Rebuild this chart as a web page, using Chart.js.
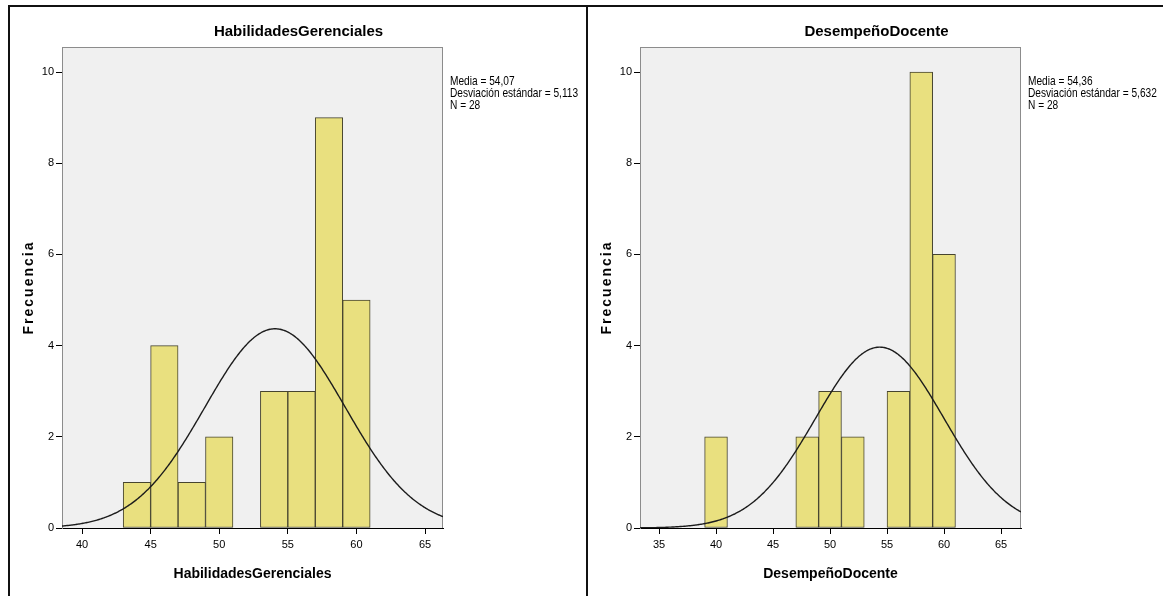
<!DOCTYPE html>
<html>
<head>
<meta charset="utf-8">
<script src="https://cdn.jsdelivr.net/npm/chart.js@4.4.0/dist/chart.umd.min.js"></script>
<style>
  body { margin: 0; background: #fff; width: 1163px; height: 596px; overflow: hidden; position: relative; }
  canvas { position: absolute; top: 0; }
  #c1 { left: 0; }
  #c2 { left: 587px; }
  .ln { position: absolute; background: #111; z-index: 2; }
</style>
</head>
<body>
<canvas id="c1" width="587" height="596"></canvas>
<canvas id="c2" width="576" height="596"></canvas>
<div class="ln" style="left:8px;top:5px;width:1155px;height:1.5px"></div>
<div class="ln" style="left:8px;top:5px;width:1.5px;height:591px"></div>
<div class="ln" style="left:586px;top:5px;width:1.5px;height:591px"></div>
<script>
// frequency axis
const yTicks = [0, 2, 4, 6, 8, 10];

// HabilidadesGerenciales: bin centres (width 2) and counts
const hgBins = [44, 46, 48, 50, 54, 56, 58, 60];
const hgCounts = [1, 4, 1, 2, 3, 3, 9, 5];
const hgXTicks = [40, 45, 50, 55, 60, 65];
const hgMedia = 54.07, hgDesv = 5.113, hgN = 28;

// DesempeñoDocente
const ddBins = [40, 48, 50, 52, 56, 58, 60];
const ddCounts = [2, 2, 3, 2, 3, 10, 6];
const ddXTicks = [35, 40, 45, 50, 55, 60, 65];
const ddMedia = 54.36, ddDesv = 5.632, ddN = 28;

const sans = "'Liberation Sans', Arial, sans-serif";

const spss = {
  id: 'spss',
  beforeDraw(chart) {
    const { ctx, chartArea: a } = chart;
    ctx.save();
    ctx.fillStyle = '#f0f0f0';
    ctx.fillRect(a.left, a.top, a.right - a.left, a.bottom - a.top);
    ctx.strokeStyle = '#8c8c8c';
    ctx.lineWidth = 1;
    ctx.strokeRect(a.left + 0.5, a.top + 0.5, a.right - a.left - 1, a.bottom - a.top);
    ctx.restore();
  },
  afterDatasetsDraw(chart) {
    // normal curve from media / desv / N, scaled to counts per bin
    const o = chart.options.plugins.spss;
    const { ctx, chartArea: a, scales: { x, y } } = chart;
    ctx.save();
    ctx.beginPath();
    ctx.rect(a.left, a.top, a.right - a.left, a.bottom - a.top);
    ctx.clip();
    ctx.strokeStyle = '#1c1c1c';
    ctx.lineWidth = 1.4;
    ctx.beginPath();
    for (let px = a.left; px <= a.right; px++) {
      const z = (x.getValueForPixel(px) - o.media) / o.desv;
      const f = o.n * o.binWidth * Math.exp(-z * z / 2) / (o.desv * Math.sqrt(2 * Math.PI));
      const py = y.getPixelForValue(f);
      if (px === a.left) ctx.moveTo(px, py); else ctx.lineTo(px, py);
    }
    ctx.stroke();
    ctx.restore();
  },
  afterDraw(chart) {
    const o = chart.options.plugins.spss;
    const { ctx, chartArea: a } = chart;
    ctx.save();
    ctx.fillStyle = '#000';
    // chart title
    ctx.font = 'bold 15px ' + sans;
    ctx.textAlign = 'center';
    ctx.textBaseline = 'middle';
    ctx.fillText(o.title, (a.left + a.right) / 2 + 46, 32);
    // y title
    ctx.save();
    ctx.translate(a.left - 33, (a.top + a.bottom) / 2);
    ctx.rotate(-Math.PI / 2);
    ctx.font = 'bold 14px ' + sans;
    ctx.letterSpacing = '2px';
    ctx.fillText('Frecuencia', 0, 0);
    ctx.restore();
    // stats (condensed, like the SPSS narrow font)
    const lines = [
      'Media = ' + o.media.toFixed(2).replace('.', ','),
      'Desviación estándar = ' + o.desv.toFixed(3).replace('.', ','),
      'N = ' + o.n
    ];
    ctx.font = '13px ' + sans;
    ctx.textAlign = 'left';
    lines.forEach((t, i) => {
      ctx.save();
      ctx.translate(a.right + 7, a.top + 34 + i * 12);
      ctx.scale(0.78, 1);
      ctx.fillText(t, 0, 0);
      ctx.restore();
    });
    ctx.restore();
  }
};

function histogram(id, title, bins, counts, xTicks, xMin, xMax, media, desv, n, pad) {
  return new Chart(document.getElementById(id), {
    type: 'bar',
    data: {
      datasets: [{
        data: bins.map((b, i) => ({ x: b, y: counts[i] })),
        backgroundColor: '#e9e07f',
        borderColor: '#46442f',
        borderWidth: 1,
        borderSkipped: false,
        categoryPercentage: 1,
        barPercentage: 1
      }]
    },
    options: {
      responsive: false,
      animation: false,
      layout: { padding: pad },
      plugins: {
        legend: { display: false },
        tooltip: { enabled: false },
        spss: { title, media, desv, n, binWidth: 2 }
      },
      scales: {
        x: {
          type: 'linear', min: xMin, max: xMax, offset: false,
          afterBuildTicks: s => { s.ticks = xTicks.map(v => ({ value: v })); },
          afterFit: s => { s.height = 68; },
          grid: { drawOnChartArea: false, offset: false, tickLength: 6, color: '#000' },
          border: { color: '#000', width: 1 },
          ticks: { font: { family: sans, size: 11 }, color: '#000', padding: 4, maxRotation: 0, autoSkip: false },
          title: { display: true, text: title, color: '#000', font: { family: sans, size: 14, weight: 'bold' }, padding: { top: 0, bottom: 13 } }
        },
        y: {
          min: 0, max: 10.55,
          afterBuildTicks: s => { s.ticks = yTicks.map(v => ({ value: v })); },
          afterFit: s => { s.width = 20; },
          grid: { drawOnChartArea: false, tickLength: 6, color: '#000' },
          border: { color: '#8c8c8c', width: 1 },
          ticks: { font: { family: sans, size: 11 }, color: '#000', padding: 2 }
        }
      }
    },
    plugins: [spss]
  });
}

histogram('c1', 'HabilidadesGerenciales', hgBins, hgCounts, hgXTicks, 38.54, 66.31,
  hgMedia, hgDesv, hgN, { left: 42, right: 144, top: 47, bottom: 0 });
histogram('c2', 'DesempeñoDocente', ddBins, ddCounts, ddXTicks, 33.33, 66.75,
  ddMedia, ddDesv, ddN, { left: 33, right: 142, top: 47, bottom: 0 });
</script>
</body>
</html>
